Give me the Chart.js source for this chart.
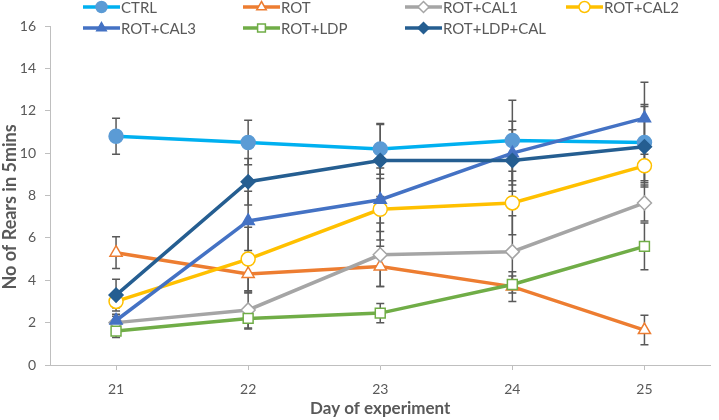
<!DOCTYPE html>
<html>
<head>
<meta charset="utf-8">
<title>No of Rears in 5mins</title>
<script src="https://cdn.jsdelivr.net/npm/chart.js@4"></script>
<style>
  body { margin: 0; background: #fff; }
  canvas { display: block; }
</style>
</head>
<body>
<canvas id="rearsChart" width="719" height="420"></canvas>
<script>
// days on the x axis
const days = ['21', '22', '23', '24', '25'];
const yTicks = [0, 2, 4, 6, 8, 10, 12, 14, 16];

// mean rears per group
const ctrl      = [10.8, 10.5, 10.2, 10.6, 10.5];
const rot       = [5.3, 4.3, 4.65, 3.7, 1.65];
const rotCal1   = [2.0, 2.6, 5.2, 5.35, 7.65];
const rotCal2   = [3.0, 5.0, 7.35, 7.65, 9.4];
const rotCal3   = [2.1, 6.8, 7.8, 10.0, 11.65];
const rotLdp    = [1.6, 2.2, 2.45, 3.8, 5.6];
const rotLdpCal = [3.3, 8.65, 9.65, 9.65, 10.3];

// error bar half-lengths
const ctrlErr      = [0.85, 1.05, 1.2, 1.9, 1.8];
const rotErr       = [0.75, 0.9, 0.95, 0.7, 0.7];
const rotCal1Err   = [0.3, 0.85, 1.5, 1.7, 0.85];
const rotCal2Err   = [0.3, 1.5, 1.45, 1.5, 0.8];
const rotCal3Err   = [0.3, 1.4, 1.5, 1.5, 1.7];
const rotLdpErr    = [0.3, 0.5, 0.45, 0.4, 1.1];
const rotLdpCalErr = [0.75, 1.1, 1.7, 1.45, 1.9];

const yTitle = 'No of Rears in 5mins';
const textColor = '#595959';
const axisColor = '#BFBFBF';
const fontFamily = 'Lato, "Open Sans", sans-serif';

function series(label, values, errors, color, pointStyle, filled, markerColor, order) {
    return {
        label: label,
        data: values,
        errors: errors,
        borderColor: color,
        borderWidth: 3.5,
        pointStyle: pointStyle,
        pointRadius: 7,
        pointHoverRadius: 7,
        pointBackgroundColor: filled ? (markerColor || color) : '#ffffff',
        pointBorderColor: markerColor || color,
        pointBorderWidth: 1.5,
        tension: 0,
        order: order
    };
}

const datasets = [
    series('CTRL', ctrl, ctrlErr, '#00B0F0', 'circle', true, '#5B9BD5', 7),
    series('ROT', rot, rotErr, '#ED7D31', 'triangle', false, null, 6),
    series('ROT+CAL1', rotCal1, rotCal1Err, '#A5A5A5', 'rectRot', false, null, 5),
    series('ROT+CAL2', rotCal2, rotCal2Err, '#FFC000', 'circle', false, null, 4),
    series('ROT+CAL3', rotCal3, rotCal3Err, '#4472C4', 'triangle', true, null, 3),
    series('ROT+LDP', rotLdp, rotLdpErr, '#70AD47', 'rect', false, null, 2),
    series('ROT+LDP+CAL', rotLdpCal, rotLdpCalErr, '#255E91', 'rectRot', true, null, 1)
];

// vertical error bars, drawn under the lines
const errorBars = {
    id: 'errorBars',
    beforeDatasetsDraw(chart) {
        const ctx = chart.ctx;
        const yScale = chart.scales.y;
        ctx.save();
        ctx.strokeStyle = '#595959';
        ctx.lineWidth = 1.5;
        chart.data.datasets.forEach((ds, i) => {
            const meta = chart.getDatasetMeta(i);
            meta.data.forEach((pt, j) => {
                const e = ds.errors[j];
                const top = yScale.getPixelForValue(ds.data[j] + e);
                const bottom = yScale.getPixelForValue(ds.data[j] - e);
                ctx.beginPath();
                ctx.moveTo(pt.x, top);
                ctx.lineTo(pt.x, bottom);
                ctx.moveTo(pt.x - 4, top);
                ctx.lineTo(pt.x + 4, top);
                ctx.moveTo(pt.x - 4, bottom);
                ctx.lineTo(pt.x + 4, bottom);
                ctx.stroke();
            });
        });
        ctx.restore();
    }
};

// Excel-style legend: line sample with the marker in the middle, 4 columns
// plus the rotated y title, which sits a little below the axis middle
const lineLegend = {
    id: 'lineLegend',
    afterDraw(chart) {
        const ctx = chart.ctx;
        const colX = [83, 243, 405, 566];
        const rowY = [7, 28];
        ctx.save();
        ctx.font = '15px ' + fontFamily;
        ctx.textBaseline = 'middle';
        chart.data.datasets.forEach((ds, i) => {
            const x = colX[i % 4];
            const y = rowY[Math.floor(i / 4)];
            ctx.strokeStyle = ds.borderColor;
            ctx.lineWidth = 3.5;
            ctx.beginPath();
            ctx.moveTo(x, y);
            ctx.lineTo(x + 37, y);
            ctx.stroke();
            ctx.fillStyle = ds.pointBackgroundColor;
            ctx.strokeStyle = ds.pointBorderColor;
            ctx.lineWidth = 1.5;
            Chart.helpers.drawPoint(ctx, {
                pointStyle: ds.pointStyle,
                radius: 5.5,
                borderWidth: 1.5,
                rotation: 0
            }, x + 18.5, y);
            ctx.fillStyle = textColor;
            ctx.fillText(ds.label, x + 38, y + 1);
        });

        ctx.translate(10, 207);
        ctx.rotate(-Math.PI / 2);
        ctx.textAlign = 'center';
        ctx.font = 'bold 18px ' + fontFamily;
        ctx.fillText(yTitle, 0, 0);
        ctx.restore();
    }
};

const config = {
    type: 'line',
    data: {
        labels: days,
        datasets: datasets
    },
    options: {
        responsive: false,
        animation: false,
        devicePixelRatio: 1,
        layout: {
            padding: { top: 26, right: 1, left: 0, bottom: 0 }
        },
        plugins: {
            legend: { display: false },
            tooltip: { enabled: false }
        },
        scales: {
            x: {
                type: 'category',
                offset: true,
                afterFit: (scale) => { scale.height = 55; },
                grid: {
                    drawOnChartArea: false,
                    color: axisColor,
                    tickLength: 5,
                    offset: false
                },
                border: { color: axisColor, width: 1 },
                ticks: {
                    color: textColor,
                    padding: 11,
                    font: { family: fontFamily, size: 14 }
                },
                title: {
                    display: true,
                    text: 'Day of experiment',
                    color: textColor,
                    padding: { top: 0, bottom: 1 },
                    font: { family: fontFamily, size: 17, weight: 'bold' }
                }
            },
            y: {
                min: 0,
                max: 16,
                afterFit: (scale) => { scale.width = 50; },
                afterBuildTicks: (scale) => {
                    scale.ticks = yTicks.map(v => ({ value: v }));
                },
                grid: {
                    drawOnChartArea: false,
                    color: axisColor,
                    tickLength: 5
                },
                border: { color: axisColor, width: 1 },
                ticks: {
                    color: textColor,
                    padding: 9,
                    font: { family: fontFamily, size: 14 }
                },
                title: { display: false }
            }
        }
    },
    plugins: [errorBars, lineLegend]
};

const rearsChart = new Chart(document.getElementById('rearsChart'), config);
</script>
</body>
</html>
